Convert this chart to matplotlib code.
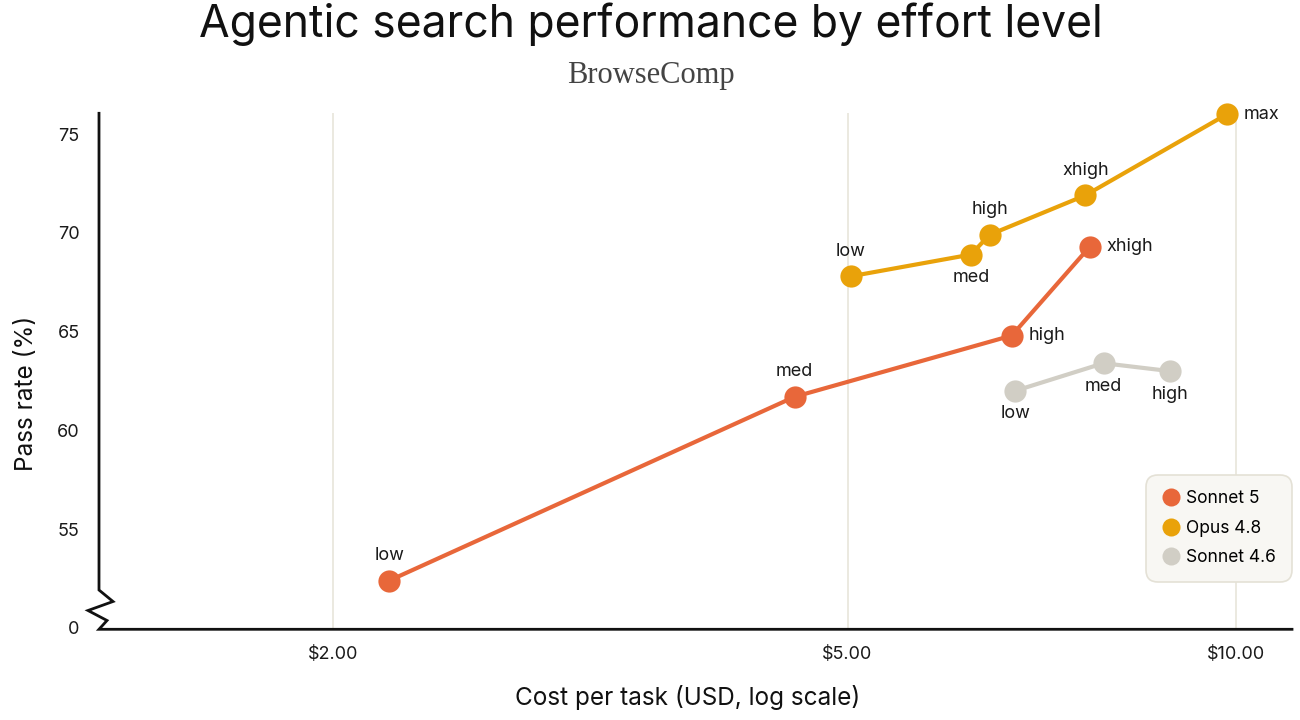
import matplotlib
matplotlib.use("Agg")
import matplotlib.pyplot as plt
from matplotlib.lines import Line2D
from matplotlib.ticker import FixedLocator, NullLocator

# ---------------- data ----------------
series_names = ["Sonnet 5", "Opus 4.8", "Sonnet 4.6"]

sonnet5_levels = ["low", "med", "high", "xhigh"]
sonnet5_cost = [2.21, 4.55, 6.70, 7.70]
sonnet5_pass = [52.4, 61.7, 64.8, 69.3]

opus48_levels = ["low", "med", "high", "xhigh", "max"]
opus48_cost = [5.03, 6.23, 6.44, 7.64, 9.83]
opus48_pass = [67.8, 68.9, 69.9, 71.9, 76.0]

sonnet46_levels = ["low", "med", "high"]
sonnet46_cost = [6.74, 7.89, 8.88]
sonnet46_pass = [62.0, 63.4, 63.0]

x_ticks = [2, 5, 10]
x_tick_labels = ["$2.00", "$5.00", "$10.00"]
y_ticks = [50, 55, 60, 65, 70, 75]
y_tick_labels = ["0", "55", "60", "65", "70", "75"]

# label placement (style)
sonnet5_label_pos = ["above", "above", "right", "right"]
opus48_label_pos = ["above", "below", "above", "above", "right"]
sonnet46_label_pos = ["below", "below", "below"]

colors = ["#E8673A", "#E9A20A", "#D1CEC5"]

# ---------------- figure ----------------
FONT = ["Inter", "DejaVu Sans"]
plt.rcParams["font.family"] = FONT

fig = plt.figure(figsize=(13, 7.2), dpi=100)
fig.patch.set_facecolor("white")
L, R, B, T = 99 / 1300, 1292 / 1300, (720 - 629.3) / 720, (720 - 113.3) / 720
ax = fig.add_axes([L, B, R - L, T - B])
ax.set_facecolor("white")

ax.set_xscale("log")
ax.set_xlim(1.317, 11.04)
ax.set_ylim(49.93, 76.05)

ax.xaxis.set_major_locator(FixedLocator(x_ticks))
ax.xaxis.set_minor_locator(NullLocator())
ax.set_xticklabels(x_tick_labels)
ax.set_yticks(y_ticks)
ax.set_yticklabels(y_tick_labels)
ax.tick_params(axis="both", length=0, labelsize=13, colors="#1a1a1a")
ax.tick_params(axis="x", pad=12)
ax.tick_params(axis="y", pad=14)

for s in ax.spines.values():
    s.set_visible(False)

# vertical gridlines
ax.grid(axis="x", color="#E8E5DA", linewidth=1.2)
ax.grid(axis="y", visible=False)
ax.set_axisbelow(True)

# custom axis lines with break
W_px, H_px = (R - L) * 1300, (T - B) * 720
def fx(px):
    return (px - 99) / W_px
def fy(py):
    return (629.3 - py) / H_px
axis_x = [fx(99), fx(99), fx(113), fx(88), fx(107), fx(99), fx(1292)]
axis_y = [fy(113.3), fy(590), fy(601.5), fy(610.5), fy(620.5), fy(629.3), fy(629.3)]
ax.plot(axis_x, axis_y, transform=ax.transAxes, color="#111111", linewidth=2.0,
        clip_on=False, solid_joinstyle="miter", zorder=5)

all_series = [
    (sonnet5_cost, sonnet5_pass, sonnet5_levels, sonnet5_label_pos),
    (opus48_cost, opus48_pass, opus48_levels, opus48_label_pos),
    (sonnet46_cost, sonnet46_pass, sonnet46_levels, sonnet46_label_pos),
]

for (xs, ys, levels, poss), col in zip(all_series, colors):
    ax.plot(xs, ys, color=col, linewidth=3.0, marker="o", markersize=16,
            markeredgewidth=0, zorder=3, clip_on=False, solid_capstyle="round")
    for x, y, lab, pos in zip(xs, ys, levels, poss):
        if pos == "above":
            off, ha, va = (0, 25), "center", "center"
        elif pos == "below":
            off, ha, va = (0, -23), "center", "center"
        else:
            off, ha, va = (17, 0), "left", "center"
        ax.annotate(lab, (x, y), xytext=off, textcoords="offset pixels",
                    ha=ha, va=va, fontsize=13, color="#1a1a1a", zorder=6)

# legend
handles = [Line2D([0], [0], marker="o", linestyle="none", markersize=13,
                  markerfacecolor=c, markeredgewidth=0) for c in colors]
leg = ax.legend(handles, series_names, loc="lower right",
                bbox_to_anchor=(1.0, fy(582)), borderaxespad=0,
                fontsize=12.5, frameon=True, fancybox=True,
                handletextpad=0.35, labelspacing=0.72, borderpad=0.9,
                handlelength=1.1)
fr = leg.get_frame()
fr.set_boxstyle("round", pad=0, rounding_size=0.7)
fr.set_facecolor("#F8F7F3")
fr.set_edgecolor("#E4E1D6")
fr.set_linewidth(1.2)
fr.set_alpha(1)
leg.set_zorder(7)

# axis labels
fig.text(688 / 1300, 1 - 698 / 720, "Cost per task (USD, log scale)",
         ha="center", va="center", fontsize=17.5, color="#111111")
fig.text(27 / 1300, 1 - 393 / 720, "Pass rate (%)", rotation=90,
         ha="center", va="center", fontsize=17.5, color="#111111")

# title & subtitle
fig.text(651 / 1300, 1 - 24 / 720, "Agentic search performance by effort level",
         ha="center", va="center", fontsize=32, color="#111111")
fig.text(651 / 1300, 1 - 75 / 720, "BrowseComp", ha="center", va="center",
         fontsize=22, color="#444444", family=["Liberation Serif", "DejaVu Serif"])

fig.savefig("out.png", dpi=100, facecolor="white")
